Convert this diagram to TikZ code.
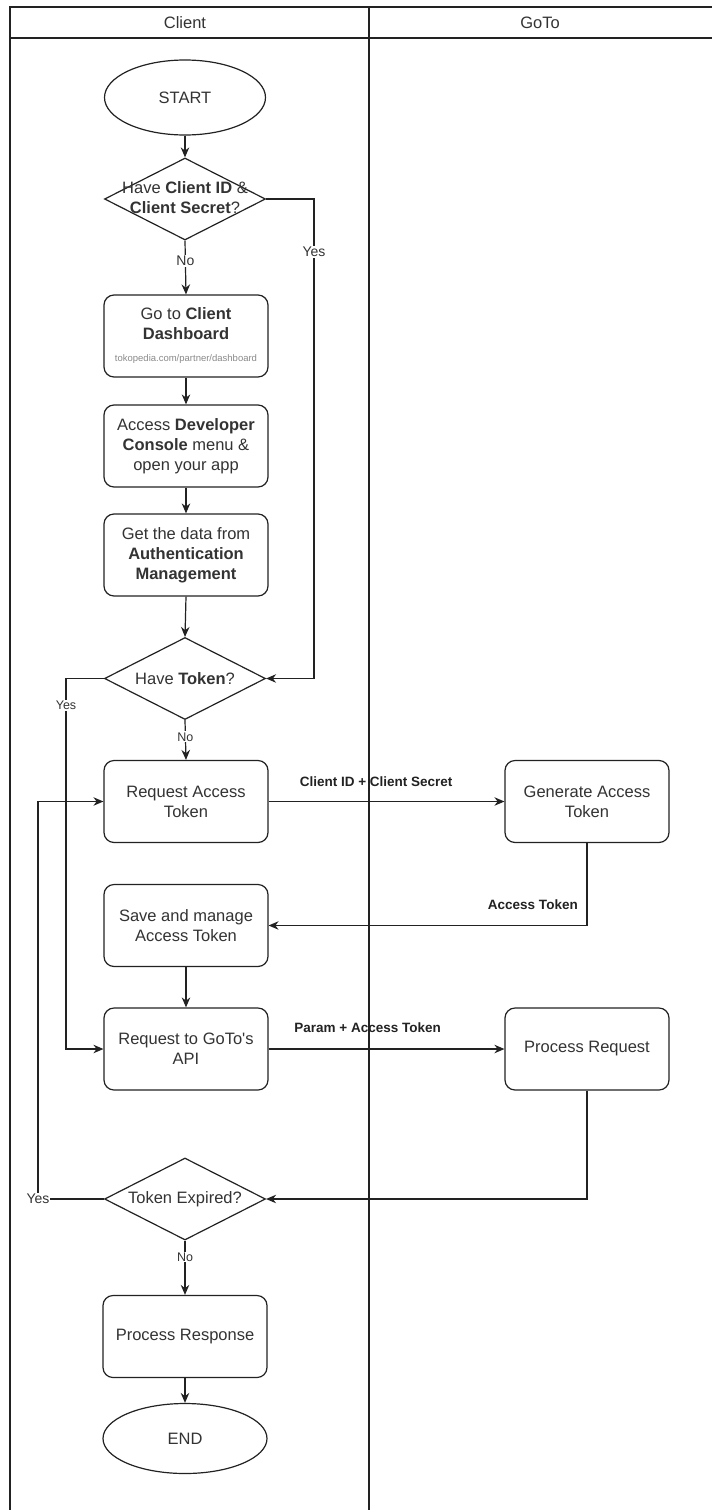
\documentclass[tikz,border=0pt]{standalone}
\usepackage{fontspec}
\setmainfont{Liberation Sans}[Ligatures=TeXOff]
\usetikzlibrary{shapes.geometric,arrows.meta}
\definecolor{linec}{HTML}{222222}
\definecolor{txt}{HTML}{333333}
\definecolor{urlc}{HTML}{8A8A8A}
\newcommand\fsz[2]{\fontsize{#1}{#2}\selectfont}
\tikzset{
  stroke/.style={draw=linec, line width=1.2pt},
  box/.style={stroke, rounded corners=10pt, minimum width=164pt, minimum height=82pt,
    align=center, text=txt, font=\fsz{16.5}{20}, inner sep=2pt},
  ell/.style={stroke, ellipse, minimum width=161pt, minimum height=75pt, text=txt, font=\fsz{16.5}{20}},
  dia/.style={stroke, diamond, minimum width=161pt, minimum height=82pt, inner sep=0pt},
  dtext/.style={align=center, text=txt, font=\fsz{16.5}{20}, inner sep=0pt},
  arr/.style={stroke, -{Stealth[length=10pt,width=8.5pt]}},
  elab/.style={fill=white, inner sep=1pt, text=txt, font=\fsz{14}{16}},
  elabs/.style={fill=white, inner sep=1pt, text=txt, font=\fsz{12.5}{14}},
  blab/.style={inner sep=1pt, text=linec, font=\fsz{13.5}{16}\bfseries},
  lane/.style={draw=linec, line width=1.3pt},
  head/.style={text=txt, font=\fsz{16.5}{20}}
}
\begin{document}
\begin{tikzpicture}[x=1pt,y=-1pt]
\fill[white] (0,0) rectangle (712,1510);
\useasboundingbox (0,0) rectangle (712,1510);
% swimlanes
\draw[lane] (712,7) -- (10,7) -- (10,1510);
\draw[lane] (10,38) -- (712,38);
\draw[lane] (369,7) -- (369,1510);
\node[head] (hclient) at (185,22.5) {Client};
\node[head] (hgoto) at (540,22.5) {GoTo};
% nodes
\node[ell] (start) at (185,97.5) {START};
\node[dia] (d1) at (185,199) {};
\node[dtext] (d1t) at (185,198) {Have \textbf{Client ID} \&\\\textbf{Client Secret}?};
\node[box] (b1) at (186,336) {Go to \textbf{Client}\\\textbf{Dashboard}\\[2pt]{\fsz{9.5}{11}\color{urlc}tokopedia.com/partner/dashboard}};
\node[box] (b2) at (186,446) {Access \textbf{Developer}\\\textbf{Console} menu \&\\open your app};
\node[box] (b3) at (186,555) {Get the data from\\\textbf{Authentication}\\\textbf{Management}};
\node[dia] (d2) at (185,678.5) {};
\node[dtext] (d2t) at (185,678.5) {Have \textbf{Token}?};
\node[box] (req) at (186,801.5) {Request Access\\Token};
\node[box] (gen) at (587,801.5) {Generate Access\\Token};
\node[box] (save) at (186,925.5) {Save and manage\\Access Token};
\node[box] (api) at (186,1049) {Request to GoTo's\\API};
\node[box] (proc) at (587,1049) {Process Request};
\node[dia] (d3) at (185,1199) {};
\node[dtext] (d3t) at (185,1199) {Token Expired?};
\node[box] (resp) at (185,1336.5) {Process Response};
\node[ell, minimum height=70pt, minimum width=164pt] (end) at (185,1438.5) {END};
% helper coordinates
\coordinate (c1) at (314,199);
\coordinate (c2) at (66,678.5);
\coordinate (c3) at (38,1199);
% connectors
\draw[arr] (start.south) -- (d1.north);
\draw[arr] (d1.south) -- node[elab, pos=0.38]{No} (b1.north);
\draw[arr] (d1.east) -- (c1) |- node[elab, pos=0.055]{Yes} (d2.east);
\draw[arr] (b1.south) -- (b2.north);
\draw[arr] (b2.south) -- (b3.north);
\draw[arr] (b3.south) -- (d2.north);
\draw[arr] (d2.south) -- node[elabs, pos=0.42]{No} (req.north);
\draw[arr] (d2.west) -- (c2) |- node[elabs, pos=0.036]{Yes} (api.west);
\draw[arr] (req.east) -- node[blab, pos=0.456, yshift=20pt]{Client ID + Client Secret} (gen.west);
\draw[arr] (gen.south) |- node[blab, pos=0.585, yshift=21pt]{Access Token} (save.east);
\draw[arr] (save.south) -- (api.north);
\draw[arr] (api.east) -- node[blab, pos=0.42, yshift=21pt]{Param + Access Token} (proc.west);
\draw[arr] (proc.south) |- (d3.east);
\draw[arr] (d3.south) -- node[elabs, pos=0.3]{No} (resp.north);
\draw[arr] (d3.west) -- node[elab, pos=1]{Yes} (c3) |- (req.west);
\draw[arr] (resp.south) -- (end.north);
\end{tikzpicture}
\end{document}
